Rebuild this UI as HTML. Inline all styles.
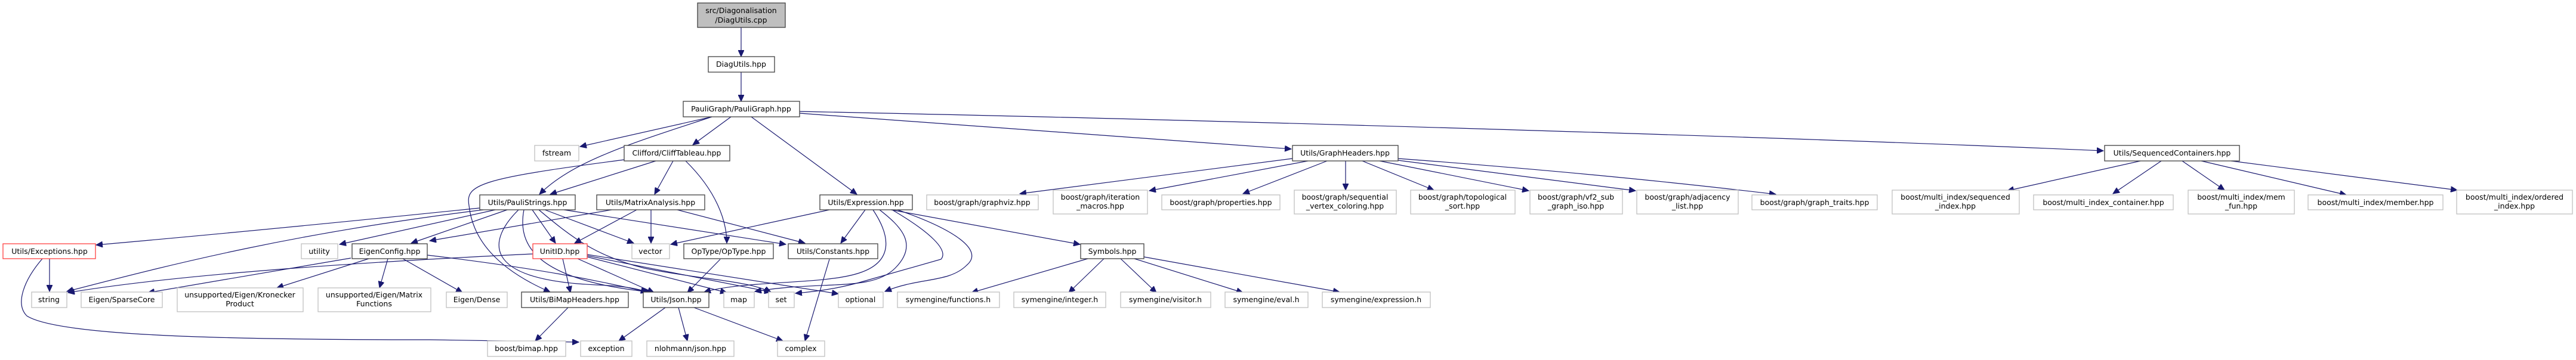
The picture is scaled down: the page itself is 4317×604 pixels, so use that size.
<!DOCTYPE html>
<html><head><meta charset="utf-8"><style>
html,body{margin:0;padding:0;background:#fff;}
svg{display:block;}
text{font-family:"DejaVu Sans","Liberation Sans",sans-serif;font-size:12.5px;fill:#000;text-anchor:middle;}
.e{fill:none;stroke:#191970;stroke-width:1.2;}
.b{fill:#fff;stroke:#404040;stroke-width:1.3;}
.g{fill:#fff;stroke:#bfbfbf;stroke-width:1.3;}
.r{fill:#fff;stroke:#ff4040;stroke-width:1.3;}
</style></head><body>
<svg width="4317" height="604" viewBox="0 0 4317 604" xmlns="http://www.w3.org/2000/svg">
<defs><marker id="a" markerUnits="userSpaceOnUse" markerWidth="12" markerHeight="10" refX="11" refY="5" orient="auto"><path d="M0,0 L11,5 L0,10 Z" fill="#191970" stroke="#191970"/></marker></defs>
<g marker-end="url(#a)">
<path class="e" d="M1242,46 L1242,95"/>
<path class="e" d="M1242,121 L1242,170"/>
<path class="e" d="M1193,196 L972,246"/>
<path class="e" d="M1193,196 C1060,240 960,270 904,326"/>
<path class="e" d="M1225,196 L1161,243"/>
<path class="e" d="M1259,196 L1436,326"/>
<path class="e" d="M1340,190 L2164,250"/>
<path class="e" d="M1340,187 C2000,200 3000,230 3525,253"/>
<path class="e" d="M1099,270 L922,326"/>
<path class="e" d="M1128,270 L1097,326"/>
<path class="e" d="M1149,270 C1200,320 1218,370 1218,408"/>
<path class="e" d="M1046,268 C800,300 780,310 786,345 C792,400 830,450 922,490"/>
<path class="e" d="M804,349 C600,370 400,390 161,411"/>
<path class="e" d="M810,352 C500,390 300,440 112,489"/>
<path class="e" d="M830,352 L569,410"/>
<path class="e" d="M850,352 L689,408"/>
<path class="e" d="M892,352 L931,408"/>
<path class="e" d="M913,352 L1062,408"/>
<path class="e" d="M945,352 L1317,410"/>
<path class="e" d="M878,352 C867,410 895,470 1090,490"/>
<path class="e" d="M869,352 C820,400 800,470 1000,478 C1050,480 1070,485 1085,490"/>
<path class="e" d="M903,352 C960,400 1000,430 1080,450 C1180,470 1250,470 1292,490"/>
<path class="e" d="M1025,352 L720,404"/>
<path class="e" d="M1067,352 L963,408"/>
<path class="e" d="M1091,352 L1091,408"/>
<path class="e" d="M1135,352 L1349,408"/>
<path class="e" d="M1390,352 L1124,410"/>
<path class="e" d="M1450,352 L1409,408"/>
<path class="e" d="M1493,352 L1810,410"/>
<path class="e" d="M1504,352 C1600,385 1650,420 1620,445 C1590,475 1540,465 1483,489"/>
<path class="e" d="M1495,352 C1560,390 1590,420 1577,435 L1440,474 C1400,485 1360,490 1333,492"/>
<path class="e" d="M1474,352 C1510,380 1540,410 1500,450 C1460,490 1380,470 1265,489"/>
<path class="e" d="M1463,352 C1495,400 1495,440 1440,458 C1380,478 1250,470 1180,490"/>
<path class="e" d="M943,434 L956,491"/>
<path class="e" d="M968,434 L1096,491"/>
<path class="e" d="M984,431 L1218,491"/>
<path class="e" d="M984,429 L1292,490"/>
<path class="e" d="M984,427 L1405,493"/>
<path class="e" d="M893,426 C600,440 300,460 114,491"/>
<path class="e" d="M588,433 L248,491"/>
<path class="e" d="M618,434 L464,483"/>
<path class="e" d="M650,434 L636,483"/>
<path class="e" d="M675,434 L775,491"/>
<path class="e" d="M716,428 C900,450 1000,470 1085,490"/>
<path class="e" d="M1207,435 L1152,491"/>
<path class="e" d="M1390,435 L1349,572"/>
<path class="e" d="M1115,516 L1037,572"/>
<path class="e" d="M1137,516 L1152,572"/>
<path class="e" d="M1163,516 L1312,572"/>
<path class="e" d="M952,516 L897,572"/>
<path class="e" d="M83,434 L83,489"/>
<path class="e" d="M71,434 C40,470 25,510 45,530 C100,565 400,570 720,570 L970,574"/>
<path class="e" d="M1823,434 L1628,491"/>
<path class="e" d="M1850,434 L1791,491"/>
<path class="e" d="M1878,434 L1938,491"/>
<path class="e" d="M1901,434 L2083,491"/>
<path class="e" d="M1917,431 L2245,490"/>
<path class="e" d="M2166,266 L1709,325"/>
<path class="e" d="M2192,270 L1926,320"/>
<path class="e" d="M2224,270 L2083,325"/>
<path class="e" d="M2255,270 L2255,319"/>
<path class="e" d="M2283,270 L2403,319"/>
<path class="e" d="M2312,270 L2562,320"/>
<path class="e" d="M2343,269 L2741,320"/>
<path class="e" d="M2343,266 C2600,285 2800,305 2976,326"/>
<path class="e" d="M3587,270 L3364,320"/>
<path class="e" d="M3622,270 L3541,325"/>
<path class="e" d="M3657,270 L3728,319"/>
<path class="e" d="M3689,270 L3932,327"/>
<path class="e" d="M3739,270 L4118,319"/>
</g>
<!-- nodes -->
<rect x="1169" y="5" width="147" height="41" fill="#bfbfbf" stroke="#404040" stroke-width="1.3"/>
<text x="1242" y="22">src/Diagonalisation</text><text x="1242" y="38">/DiagUtils.cpp</text>
<rect class="b" x="1187" y="95" width="111" height="26"/><text x="1242" y="112">DiagUtils.hpp</text>
<rect class="b" x="1145" y="170" width="195" height="26"/><text x="1242" y="187">PauliGraph/PauliGraph.hpp</text>
<rect class="g" x="896" y="244" width="74" height="26"/><text x="933" y="261">fstream</text>
<rect class="b" x="1046" y="244" width="177" height="26"/><text x="1134" y="261">Clifford/CliffTableau.hpp</text>
<rect class="b" x="2166" y="244" width="177" height="26"/><text x="2254" y="261">Utils/GraphHeaders.hpp</text>
<rect class="b" x="3527" y="244" width="226" height="26"/><text x="3640" y="261">Utils/SequencedContainers.hpp</text>
<rect class="b" x="804" y="327" width="160" height="25"/><text x="884" y="344">Utils/PauliStrings.hpp</text>
<rect class="b" x="1000" y="327" width="181" height="25"/><text x="1090" y="344">Utils/MatrixAnalysis.hpp</text>
<rect class="b" x="1374" y="327" width="155" height="25"/><text x="1451" y="344">Utils/Expression.hpp</text>
<rect class="g" x="1553" y="327" width="187" height="25"/><text x="1646" y="344">boost/graph/graphviz.hpp</text>
<rect class="g" x="1765" y="319" width="158" height="40"/><text x="1844" y="335">boost/graph/iteration</text><text x="1844" y="350">_macros.hpp</text>
<rect class="g" x="1947" y="327" width="198" height="25"/><text x="2046" y="344">boost/graph/properties.hpp</text>
<rect class="g" x="2169" y="319" width="171" height="40"/><text x="2254" y="335">boost/graph/sequential</text><text x="2254" y="350">_vertex_coloring.hpp</text>
<rect class="g" x="2364" y="319" width="175" height="40"/><text x="2451" y="335">boost/graph/topological</text><text x="2451" y="350">_sort.hpp</text>
<rect class="g" x="2564" y="319" width="155" height="40"/><text x="2641" y="335">boost/graph/vf2_sub</text><text x="2641" y="350">_graph_iso.hpp</text>
<rect class="g" x="2743" y="319" width="170" height="40"/><text x="2828" y="335">boost/graph/adjacency</text><text x="2828" y="350">_list.hpp</text>
<rect class="g" x="2936" y="327" width="210" height="25"/><text x="3041" y="344">boost/graph/graph_traits.hpp</text>
<rect class="g" x="3171" y="319" width="213" height="40"/><text x="3277" y="335">boost/multi_index/sequenced</text><text x="3277" y="350">_index.hpp</text>
<rect class="g" x="3408" y="327" width="234" height="25"/><text x="3525" y="344">boost/multi_index_container.hpp</text>
<rect class="g" x="3667" y="319" width="178" height="40"/><text x="3756" y="335">boost/multi_index/mem</text><text x="3756" y="350">_fun.hpp</text>
<rect class="g" x="3868" y="327" width="226" height="25"/><text x="3981" y="344">boost/multi_index/member.hpp</text>
<rect class="g" x="4117" y="319" width="194" height="40"/><text x="4214" y="335">boost/multi_index/ordered</text><text x="4214" y="350">_index.hpp</text>
<rect class="r" x="5" y="409" width="155" height="25"/><text x="83" y="426">Utils/Exceptions.hpp</text>
<rect class="g" x="505" y="409" width="61" height="25"/><text x="535" y="426">utility</text>
<rect class="b" x="590" y="409" width="126" height="25"/><text x="653" y="426">EigenConfig.hpp</text>
<rect class="r" x="893" y="409" width="91" height="25"/><text x="938" y="426">UnitID.hpp</text>
<rect class="g" x="1059" y="409" width="63" height="25"/><text x="1090" y="426">vector</text>
<rect class="b" x="1146" y="409" width="150" height="25"/><text x="1221" y="426">OpType/OpType.hpp</text>
<rect class="b" x="1321" y="409" width="150" height="25"/><text x="1396" y="426">Utils/Constants.hpp</text>
<rect class="b" x="1811" y="409" width="106" height="25"/><text x="1864" y="426">Symbols.hpp</text>
<rect class="g" x="53" y="490" width="59" height="26"/><text x="82" y="507">string</text>
<rect class="g" x="136" y="490" width="136" height="26"/><text x="204" y="507">Eigen/SparseCore</text>
<rect class="g" x="297" y="483" width="211" height="40"/><text x="402" y="499">unsupported/Eigen/Kronecker</text><text x="402" y="514">Product</text>
<rect class="g" x="533" y="483" width="189" height="40"/><text x="627" y="499">unsupported/Eigen/Matrix</text><text x="627" y="514">Functions</text>
<rect class="g" x="748" y="490" width="102" height="26"/><text x="799" y="507">Eigen/Dense</text>
<rect class="b" x="874" y="490" width="179" height="26"/><text x="963" y="507">Utils/BiMapHeaders.hpp</text>
<rect class="b" x="1078" y="490" width="110" height="26"/><text x="1133" y="507">Utils/Json.hpp</text>
<rect class="g" x="1213" y="490" width="51" height="26"/><text x="1238" y="507">map</text>
<rect class="g" x="1288" y="490" width="43" height="26"/><text x="1309" y="507">set</text>
<rect class="g" x="1405" y="490" width="75" height="26"/><text x="1442" y="507">optional</text>
<rect class="g" x="1504" y="490" width="171" height="26"/><text x="1589" y="507">symengine/functions.h</text>
<rect class="g" x="1699" y="490" width="154" height="26"/><text x="1776" y="507">symengine/integer.h</text>
<rect class="g" x="1878" y="490" width="151" height="26"/><text x="1953" y="507">symengine/visitor.h</text>
<rect class="g" x="2053" y="490" width="139" height="26"/><text x="2122" y="507">symengine/eval.h</text>
<rect class="g" x="2216" y="490" width="181" height="26"/><text x="2306" y="507">symengine/expression.h</text>
<rect class="g" x="817" y="572" width="131" height="26"/><text x="882" y="589">boost/bimap.hpp</text>
<rect class="g" x="973" y="572" width="86" height="26"/><text x="1016" y="589">exception</text>
<rect class="g" x="1084" y="572" width="146" height="26"/><text x="1157" y="589">nlohmann/json.hpp</text>
<rect class="g" x="1303" y="572" width="79" height="26"/><text x="1342" y="589">complex</text>
</svg>
</body></html>
